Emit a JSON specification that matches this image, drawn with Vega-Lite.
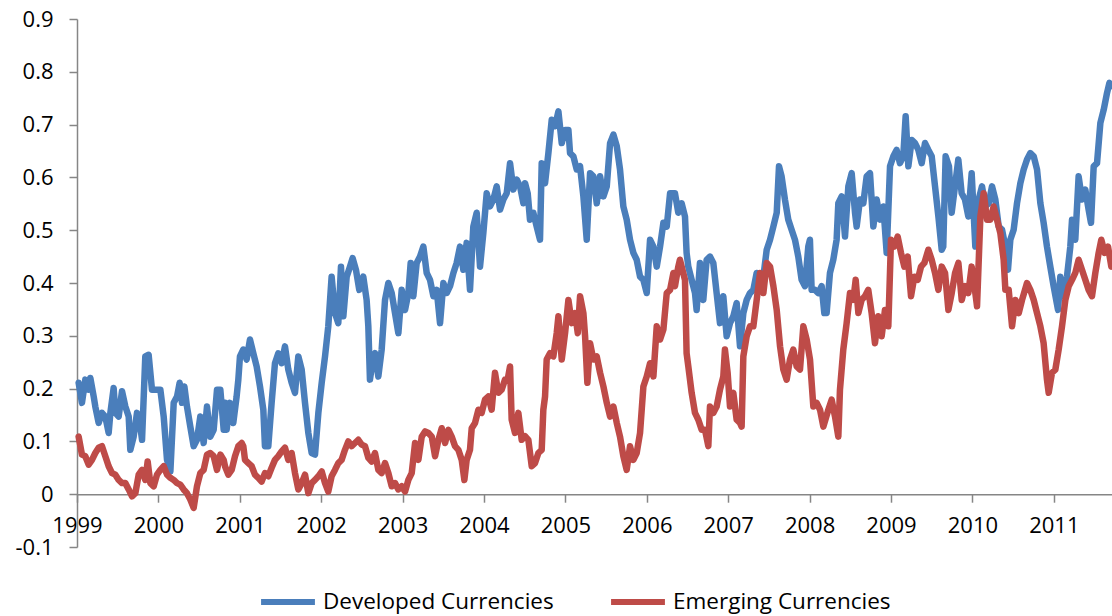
{
"$schema": "https://vega.github.io/schema/vega-lite/v6.json",
"width": 1035, "height": 528,
"autosize": {"type": "none"},
"padding": {"left": 77, "top": 19, "right": 0, "bottom": 69},
"background": "white",
"config": {"view": {"stroke": null}, "font": "Open Sans"},
"datasets": {
"developed": [
{"year":1999.020,"value":0.211},{"year":1999.061,"value":0.173},{"year":1999.102,"value":0.217},{"year":1999.143,"value":0.198},{"year":1999.164,"value":0.220},{"year":1999.205,"value":0.185},{"year":1999.225,"value":0.166},{"year":1999.266,"value":0.135},{"year":1999.307,"value":0.154},{"year":1999.348,"value":0.147},{"year":1999.389,"value":0.116},{"year":1999.410,"value":0.154},{"year":1999.450,"value":0.201},{"year":1999.471,"value":0.154},{"year":1999.512,"value":0.147},{"year":1999.553,"value":0.195},{"year":1999.594,"value":0.166},{"year":1999.635,"value":0.147},{"year":1999.655,"value":0.084},{"year":1999.696,"value":0.109},{"year":1999.737,"value":0.154},{"year":1999.778,"value":0.128},{"year":1999.799,"value":0.103},{"year":1999.839,"value":0.261},{"year":1999.880,"value":0.264},{"year":1999.921,"value":0.198},{"year":1999.962,"value":0.198},{"year":2000.024,"value":0.198},{"year":2000.065,"value":0.147},{"year":2000.106,"value":0.065},{"year":2000.147,"value":0.043},{"year":2000.188,"value":0.173},{"year":2000.229,"value":0.185},{"year":2000.261,"value":0.211},{"year":2000.290,"value":0.173},{"year":2000.319,"value":0.204},{"year":2000.351,"value":0.166},{"year":2000.392,"value":0.128},{"year":2000.433,"value":0.091},{"year":2000.474,"value":0.103},{"year":2000.515,"value":0.147},{"year":2000.556,"value":0.097},{"year":2000.597,"value":0.166},{"year":2000.638,"value":0.109},{"year":2000.679,"value":0.122},{"year":2000.720,"value":0.198},{"year":2000.761,"value":0.198},{"year":2000.802,"value":0.122},
{"year":2000.818,"value":0.173},{"year":2000.838,"value":0.122},{"year":2000.879,"value":0.173},{"year":2000.920,"value":0.135},{"year":2000.961,"value":0.185},{"year":2000.982,"value":0.217},{"year":2001.002,"value":0.261},{"year":2001.043,"value":0.274},{"year":2001.084,"value":0.255},{"year":2001.125,"value":0.293},{"year":2001.166,"value":0.267},{"year":2001.207,"value":0.242},{"year":2001.248,"value":0.204},{"year":2001.289,"value":0.160},{"year":2001.309,"value":0.091},{"year":2001.350,"value":0.091},{"year":2001.391,"value":0.173},{"year":2001.432,"value":0.248},{"year":2001.473,"value":0.267},{"year":2001.514,"value":0.248},{"year":2001.555,"value":0.280},{"year":2001.596,"value":0.236},{"year":2001.637,"value":0.211},{"year":2001.678,"value":0.192},{"year":2001.719,"value":0.261},{"year":2001.760,"value":0.236},{"year":2001.801,"value":0.173},{"year":2001.842,"value":0.116},{"year":2001.883,"value":0.078},{"year":2001.924,"value":0.075},{"year":2001.965,"value":0.154},{"year":2002.006,"value":0.211},{"year":2002.047,"value":0.261},{"year":2002.087,"value":0.318},{"year":2002.128,"value":0.412},{"year":2002.169,"value":0.343},{"year":2002.210,"value":0.324},{"year":2002.243,"value":0.431},{"year":2002.272,"value":0.337},{"year":2002.313,"value":0.412},{"year":2002.354,"value":0.431},{"year":2002.386,"value":0.447},{"year":2002.427,"value":0.425},{"year":2002.468,"value":0.387},{"year":2002.517,"value":0.412},{"year":2002.558,"value":0.368},{"year":2002.579,"value":0.318},{"year":2002.599,"value":0.217},{"year":2002.640,"value":0.261},
{"year":2002.661,"value":0.267},{"year":2002.702,"value":0.223},{"year":2002.743,"value":0.274},{"year":2002.784,"value":0.368},{"year":2002.825,"value":0.400},{"year":2002.866,"value":0.381},{"year":2002.907,"value":0.343},{"year":2002.948,"value":0.305},{"year":2002.989,"value":0.387},{"year":2003.030,"value":0.349},{"year":2003.071,"value":0.381},{"year":2003.099,"value":0.438},{"year":2003.132,"value":0.375},{"year":2003.173,"value":0.438},{"year":2003.214,"value":0.450},{"year":2003.255,"value":0.469},{"year":2003.296,"value":0.419},{"year":2003.337,"value":0.406},{"year":2003.378,"value":0.375},{"year":2003.419,"value":0.387},{"year":2003.460,"value":0.324},{"year":2003.501,"value":0.400},{"year":2003.542,"value":0.381},{"year":2003.583,"value":0.394},{"year":2003.624,"value":0.419},{"year":2003.664,"value":0.438},{"year":2003.705,"value":0.469},{"year":2003.746,"value":0.425},{"year":2003.787,"value":0.476},{"year":2003.828,"value":0.387},{"year":2003.869,"value":0.507},{"year":2003.910,"value":0.533},{"year":2003.951,"value":0.431},{"year":2003.992,"value":0.495},{"year":2004.033,"value":0.570},{"year":2004.074,"value":0.545},{"year":2004.115,"value":0.558},{"year":2004.156,"value":0.583},{"year":2004.197,"value":0.539},{"year":2004.238,"value":0.558},{"year":2004.279,"value":0.570},{"year":2004.320,"value":0.627},{"year":2004.361,"value":0.577},{"year":2004.402,"value":0.596},{"year":2004.443,"value":0.583},{"year":2004.484,"value":0.551},
{"year":2004.504,"value":0.589},{"year":2004.537,"value":0.570},{"year":2004.565,"value":0.520},{"year":2004.606,"value":0.533},{"year":2004.647,"value":0.507},{"year":2004.688,"value":0.482},{"year":2004.709,"value":0.627},{"year":2004.750,"value":0.589},{"year":2004.791,"value":0.646},{"year":2004.832,"value":0.709},{"year":2004.873,"value":0.697},{"year":2004.914,"value":0.725},{"year":2004.955,"value":0.665},{"year":2004.996,"value":0.690},{"year":2005.037,"value":0.690},{"year":2005.057,"value":0.646},{"year":2005.098,"value":0.640},{"year":2005.139,"value":0.615},{"year":2005.180,"value":0.621},{"year":2005.221,"value":0.564},{"year":2005.262,"value":0.482},{"year":2005.303,"value":0.608},{"year":2005.344,"value":0.602},{"year":2005.385,"value":0.551},{"year":2005.426,"value":0.602},{"year":2005.467,"value":0.564},{"year":2005.508,"value":0.583},{"year":2005.549,"value":0.665},{"year":2005.590,"value":0.681},{"year":2005.631,"value":0.659},{"year":2005.671,"value":0.615},{"year":2005.712,"value":0.545},{"year":2005.753,"value":0.520},{"year":2005.794,"value":0.482},{"year":2005.835,"value":0.457},{"year":2005.876,"value":0.444},{"year":2005.917,"value":0.412},{"year":2005.958,"value":0.406},{"year":2005.999,"value":0.381},{"year":2006.040,"value":0.482},{"year":2006.081,"value":0.469},{"year":2006.122,"value":0.431},{"year":2006.163,"value":0.469},{"year":2006.204,"value":0.514},{"year":2006.245,"value":0.507},{"year":2006.286,"value":0.570},{"year":2006.327,"value":0.570},
{"year":2006.346,"value":0.570},{"year":2006.387,"value":0.533},{"year":2006.428,"value":0.551},{"year":2006.469,"value":0.526},{"year":2006.489,"value":0.457},{"year":2006.510,"value":0.431},{"year":2006.551,"value":0.406},{"year":2006.592,"value":0.381},{"year":2006.612,"value":0.349},{"year":2006.653,"value":0.438},{"year":2006.694,"value":0.368},{"year":2006.735,"value":0.444},{"year":2006.776,"value":0.450},{"year":2006.817,"value":0.438},{"year":2006.858,"value":0.381},{"year":2006.899,"value":0.324},{"year":2006.940,"value":0.375},{"year":2006.981,"value":0.299},{"year":2007.022,"value":0.324},{"year":2007.063,"value":0.337},{"year":2007.104,"value":0.362},{"year":2007.145,"value":0.280},{"year":2007.186,"value":0.343},{"year":2007.227,"value":0.368},{"year":2007.268,"value":0.381},{"year":2007.309,"value":0.387},{"year":2007.350,"value":0.419},{"year":2007.391,"value":0.394},{"year":2007.432,"value":0.412},{"year":2007.473,"value":0.463},{"year":2007.514,"value":0.482},{"year":2007.555,"value":0.507},{"year":2007.596,"value":0.533},{"year":2007.624,"value":0.621},{"year":2007.656,"value":0.602},{"year":2007.697,"value":0.558},{"year":2007.738,"value":0.520},{"year":2007.779,"value":0.501},{"year":2007.820,"value":0.482},{"year":2007.861,"value":0.450},{"year":2007.902,"value":0.406},{"year":2007.943,"value":0.394},{"year":2007.984,"value":0.469},{"year":2008.004,"value":0.482},{"year":2008.025,"value":0.387},{"year":2008.066,"value":0.387},{"year":2008.107,"value":0.381},{"year":2008.148,"value":0.394},{"year":2008.181,"value":0.343},
{"year":2008.189,"value":0.381},{"year":2008.209,"value":0.343},{"year":2008.250,"value":0.419},{"year":2008.291,"value":0.444},{"year":2008.332,"value":0.482},{"year":2008.353,"value":0.551},{"year":2008.394,"value":0.564},{"year":2008.435,"value":0.488},{"year":2008.476,"value":0.583},{"year":2008.517,"value":0.608},{"year":2008.558,"value":0.533},{"year":2008.578,"value":0.507},{"year":2008.619,"value":0.558},{"year":2008.660,"value":0.551},{"year":2008.701,"value":0.602},{"year":2008.742,"value":0.608},{"year":2008.783,"value":0.507},{"year":2008.824,"value":0.558},{"year":2008.865,"value":0.520},{"year":2008.906,"value":0.545},{"year":2008.947,"value":0.457},{"year":2008.988,"value":0.621},{"year":2009.029,"value":0.640},{"year":2009.069,"value":0.652},{"year":2009.110,"value":0.627},{"year":2009.151,"value":0.640},{"year":2009.180,"value":0.716},{"year":2009.213,"value":0.621},{"year":2009.254,"value":0.671},{"year":2009.295,"value":0.665},{"year":2009.336,"value":0.652},{"year":2009.377,"value":0.627},{"year":2009.418,"value":0.665},{"year":2009.459,"value":0.652},{"year":2009.500,"value":0.640},{"year":2009.541,"value":0.583},{"year":2009.582,"value":0.526},{"year":2009.623,"value":0.463},{"year":2009.642,"value":0.469},{"year":2009.671,"value":0.640},{"year":2009.712,"value":0.621},{"year":2009.745,"value":0.533},{"year":2009.786,"value":0.583},{"year":2009.827,"value":0.634},{"year":2009.868,"value":0.570},{"year":2009.909,"value":0.558},{"year":2009.950,"value":0.526},{"year":2009.991,"value":0.608},
{"year":2010.036,"value":0.469},{"year":2010.077,"value":0.558},{"year":2010.118,"value":0.583},{"year":2010.159,"value":0.545},{"year":2010.200,"value":0.551},{"year":2010.241,"value":0.583},{"year":2010.282,"value":0.558},{"year":2010.323,"value":0.507},{"year":2010.364,"value":0.501},{"year":2010.405,"value":0.469},{"year":2010.437,"value":0.425},{"year":2010.466,"value":0.482},{"year":2010.507,"value":0.501},{"year":2010.548,"value":0.551},{"year":2010.589,"value":0.589},{"year":2010.630,"value":0.615},{"year":2010.671,"value":0.634},{"year":2010.712,"value":0.646},{"year":2010.753,"value":0.640},{"year":2010.794,"value":0.615},{"year":2010.835,"value":0.551},{"year":2010.875,"value":0.514},{"year":2010.916,"value":0.469},{"year":2010.957,"value":0.431},{"year":2010.998,"value":0.394},{"year":2011.052,"value":0.349},{"year":2011.080,"value":0.412},{"year":2011.109,"value":0.375},{"year":2011.162,"value":0.412},{"year":2011.203,"value":0.469},{"year":2011.224,"value":0.520},{"year":2011.264,"value":0.482},{"year":2011.305,"value":0.602},{"year":2011.346,"value":0.558},{"year":2011.387,"value":0.577},{"year":2011.428,"value":0.539},{"year":2011.457,"value":0.514},{"year":2011.490,"value":0.621},{"year":2011.531,"value":0.627},{"year":2011.572,"value":0.703},{"year":2011.613,"value":0.728},{"year":2011.654,"value":0.760},{"year":2011.683,"value":0.779},{"year":2011.707,"value":0.773}
],
"emerging": [
{"year":1999.020,"value":0.109},{"year":1999.061,"value":0.075},{"year":1999.102,"value":0.072},{"year":1999.143,"value":0.056},{"year":1999.184,"value":0.065},{"year":1999.225,"value":0.078},{"year":1999.266,"value":0.088},{"year":1999.307,"value":0.091},{"year":1999.348,"value":0.072},{"year":1999.389,"value":0.053},{"year":1999.430,"value":0.040},{"year":1999.471,"value":0.037},{"year":1999.512,"value":0.027},{"year":1999.553,"value":0.021},{"year":1999.594,"value":0.021},{"year":1999.635,"value":0.009},{"year":1999.676,"value":-0.004},{"year":1999.717,"value":0.002},{"year":1999.758,"value":0.037},{"year":1999.799,"value":0.046},{"year":1999.839,"value":0.027},{"year":1999.868,"value":0.062},{"year":1999.901,"value":0.021},{"year":1999.942,"value":0.015},{"year":1999.983,"value":0.037},{"year":2000.024,"value":0.046},{"year":2000.065,"value":0.053},{"year":2000.106,"value":0.037},{"year":2000.147,"value":0.031},{"year":2000.188,"value":0.027},{"year":2000.229,"value":0.021},{"year":2000.269,"value":0.018},{"year":2000.310,"value":0.009},{"year":2000.351,"value":0.002},{"year":2000.392,"value":-0.010},{"year":2000.433,"value":-0.026},{"year":2000.474,"value":0.015},{"year":2000.515,"value":0.040},{"year":2000.556,"value":0.046},{"year":2000.597,"value":0.075},{"year":2000.638,"value":0.078},{"year":2000.679,"value":0.072},{"year":2000.720,"value":0.046},{"year":2000.761,"value":0.075},{"year":2000.802,"value":0.065},
{"year":2000.818,"value":0.053},{"year":2000.859,"value":0.037},{"year":2000.900,"value":0.046},{"year":2000.941,"value":0.072},{"year":2000.982,"value":0.091},{"year":2001.023,"value":0.097},{"year":2001.043,"value":0.091},{"year":2001.064,"value":0.065},{"year":2001.105,"value":0.059},{"year":2001.146,"value":0.053},{"year":2001.186,"value":0.037},{"year":2001.227,"value":0.031},{"year":2001.268,"value":0.024},{"year":2001.309,"value":0.040},{"year":2001.350,"value":0.034},{"year":2001.391,"value":0.050},{"year":2001.432,"value":0.065},{"year":2001.473,"value":0.072},{"year":2001.514,"value":0.081},{"year":2001.555,"value":0.088},{"year":2001.596,"value":0.065},{"year":2001.637,"value":0.078},{"year":2001.678,"value":0.040},{"year":2001.719,"value":0.009},{"year":2001.760,"value":0.021},{"year":2001.801,"value":0.037},{"year":2001.842,"value":0.002},{"year":2001.883,"value":0.021},{"year":2001.924,"value":0.027},{"year":2001.965,"value":0.034},{"year":2002.006,"value":0.043},{"year":2002.047,"value":0.021},{"year":2002.087,"value":0.005},{"year":2002.128,"value":0.034},{"year":2002.169,"value":0.046},{"year":2002.210,"value":0.059},{"year":2002.251,"value":0.065},{"year":2002.292,"value":0.084},{"year":2002.333,"value":0.100},{"year":2002.374,"value":0.091},{"year":2002.415,"value":0.097},{"year":2002.456,"value":0.103},{"year":2002.497,"value":0.094},{"year":2002.538,"value":0.091},{"year":2002.579,"value":0.069},{"year":2002.620,"value":0.062},
{"year":2002.661,"value":0.078},{"year":2002.702,"value":0.046},{"year":2002.743,"value":0.040},{"year":2002.784,"value":0.059},{"year":2002.825,"value":0.040},{"year":2002.866,"value":0.015},{"year":2002.907,"value":0.021},{"year":2002.948,"value":0.009},{"year":2002.989,"value":0.015},{"year":2003.030,"value":0.005},{"year":2003.071,"value":0.027},{"year":2003.112,"value":0.040},{"year":2003.153,"value":0.097},{"year":2003.194,"value":0.065},{"year":2003.235,"value":0.109},{"year":2003.276,"value":0.119},{"year":2003.317,"value":0.116},{"year":2003.358,"value":0.109},{"year":2003.399,"value":0.072},{"year":2003.440,"value":0.103},{"year":2003.481,"value":0.125},{"year":2003.522,"value":0.097},{"year":2003.563,"value":0.122},{"year":2003.603,"value":0.109},{"year":2003.644,"value":0.091},{"year":2003.685,"value":0.084},{"year":2003.726,"value":0.065},{"year":2003.759,"value":0.027},{"year":2003.787,"value":0.065},{"year":2003.828,"value":0.084},{"year":2003.849,"value":0.125},{"year":2003.890,"value":0.135},{"year":2003.931,"value":0.160},{"year":2003.971,"value":0.154},{"year":2004.012,"value":0.179},{"year":2004.053,"value":0.185},{"year":2004.094,"value":0.160},{"year":2004.135,"value":0.230},{"year":2004.176,"value":0.192},{"year":2004.217,"value":0.198},{"year":2004.258,"value":0.217},{"year":2004.291,"value":0.217},{"year":2004.320,"value":0.242},{"year":2004.340,"value":0.141},{"year":2004.381,"value":0.116},{"year":2004.422,"value":0.154},{"year":2004.463,"value":0.103},
{"year":2004.504,"value":0.110},{"year":2004.545,"value":0.103},{"year":2004.586,"value":0.053},{"year":2004.627,"value":0.059},{"year":2004.668,"value":0.078},{"year":2004.709,"value":0.084},{"year":2004.729,"value":0.160},{"year":2004.750,"value":0.185},{"year":2004.770,"value":0.255},{"year":2004.811,"value":0.267},{"year":2004.852,"value":0.261},{"year":2004.893,"value":0.305},{"year":2004.914,"value":0.337},{"year":2004.955,"value":0.255},{"year":2004.996,"value":0.305},{"year":2005.037,"value":0.368},{"year":2005.078,"value":0.324},{"year":2005.119,"value":0.343},{"year":2005.152,"value":0.305},{"year":2005.180,"value":0.375},{"year":2005.221,"value":0.343},{"year":2005.242,"value":0.299},{"year":2005.270,"value":0.211},{"year":2005.303,"value":0.286},{"year":2005.344,"value":0.255},{"year":2005.385,"value":0.261},{"year":2005.426,"value":0.230},{"year":2005.467,"value":0.204},{"year":2005.508,"value":0.173},{"year":2005.549,"value":0.147},{"year":2005.590,"value":0.166},{"year":2005.631,"value":0.135},{"year":2005.671,"value":0.109},{"year":2005.712,"value":0.072},{"year":2005.753,"value":0.046},{"year":2005.794,"value":0.091},{"year":2005.835,"value":0.065},{"year":2005.876,"value":0.078},{"year":2005.917,"value":0.116},{"year":2005.958,"value":0.204},{"year":2005.999,"value":0.223},{"year":2006.040,"value":0.248},{"year":2006.081,"value":0.223},{"year":2006.122,"value":0.318},{"year":2006.163,"value":0.293},{"year":2006.204,"value":0.312},{"year":2006.245,"value":0.381},{"year":2006.286,"value":0.387},{"year":2006.327,"value":0.419},
{"year":2006.346,"value":0.394},{"year":2006.387,"value":0.431},{"year":2006.407,"value":0.444},{"year":2006.428,"value":0.431},{"year":2006.469,"value":0.406},{"year":2006.489,"value":0.267},{"year":2006.510,"value":0.242},{"year":2006.551,"value":0.192},{"year":2006.592,"value":0.154},{"year":2006.633,"value":0.141},{"year":2006.674,"value":0.122},{"year":2006.715,"value":0.122},{"year":2006.756,"value":0.091},{"year":2006.776,"value":0.166},{"year":2006.817,"value":0.154},{"year":2006.858,"value":0.166},{"year":2006.899,"value":0.198},{"year":2006.940,"value":0.223},{"year":2006.960,"value":0.274},{"year":2006.993,"value":0.230},{"year":2007.022,"value":0.166},{"year":2007.063,"value":0.192},{"year":2007.104,"value":0.141},{"year":2007.145,"value":0.135},{"year":2007.165,"value":0.128},{"year":2007.186,"value":0.261},{"year":2007.227,"value":0.299},{"year":2007.268,"value":0.318},{"year":2007.309,"value":0.318},{"year":2007.350,"value":0.368},{"year":2007.391,"value":0.419},{"year":2007.432,"value":0.381},{"year":2007.473,"value":0.438},{"year":2007.514,"value":0.431},{"year":2007.555,"value":0.394},{"year":2007.596,"value":0.349},{"year":2007.637,"value":0.280},{"year":2007.677,"value":0.236},{"year":2007.718,"value":0.217},{"year":2007.759,"value":0.255},{"year":2007.800,"value":0.274},{"year":2007.841,"value":0.242},{"year":2007.882,"value":0.236},{"year":2007.923,"value":0.318},{"year":2007.964,"value":0.293},{"year":2008.005,"value":0.255},{"year":2008.046,"value":0.166},{"year":2008.087,"value":0.173},{"year":2008.128,"value":0.160},{"year":2008.169,"value":0.128},
{"year":2008.230,"value":0.160},{"year":2008.271,"value":0.179},{"year":2008.312,"value":0.147},{"year":2008.353,"value":0.109},{"year":2008.373,"value":0.198},{"year":2008.414,"value":0.274},{"year":2008.455,"value":0.324},{"year":2008.496,"value":0.381},{"year":2008.537,"value":0.368},{"year":2008.566,"value":0.406},{"year":2008.599,"value":0.343},{"year":2008.639,"value":0.368},{"year":2008.680,"value":0.375},{"year":2008.721,"value":0.387},{"year":2008.762,"value":0.343},{"year":2008.803,"value":0.286},{"year":2008.844,"value":0.337},{"year":2008.885,"value":0.299},{"year":2008.926,"value":0.349},{"year":2008.967,"value":0.318},{"year":2009.000,"value":0.482},{"year":2009.041,"value":0.469},{"year":2009.082,"value":0.488},{"year":2009.123,"value":0.457},{"year":2009.164,"value":0.431},{"year":2009.205,"value":0.450},{"year":2009.246,"value":0.375},{"year":2009.287,"value":0.412},{"year":2009.328,"value":0.406},{"year":2009.369,"value":0.431},{"year":2009.410,"value":0.438},{"year":2009.459,"value":0.463},{"year":2009.500,"value":0.444},{"year":2009.541,"value":0.419},{"year":2009.582,"value":0.387},{"year":2009.623,"value":0.431},{"year":2009.664,"value":0.419},{"year":2009.705,"value":0.349},{"year":2009.746,"value":0.381},{"year":2009.787,"value":0.419},{"year":2009.828,"value":0.438},{"year":2009.869,"value":0.368},{"year":2009.910,"value":0.394},{"year":2009.950,"value":0.381},{"year":2009.991,"value":0.431},
{"year":2010.036,"value":0.381},{"year":2010.057,"value":0.356},{"year":2010.098,"value":0.526},{"year":2010.139,"value":0.570},{"year":2010.180,"value":0.520},{"year":2010.220,"value":0.520},{"year":2010.261,"value":0.545},{"year":2010.302,"value":0.520},{"year":2010.343,"value":0.495},{"year":2010.384,"value":0.444},{"year":2010.405,"value":0.387},{"year":2010.446,"value":0.387},{"year":2010.487,"value":0.318},{"year":2010.528,"value":0.368},{"year":2010.569,"value":0.343},{"year":2010.610,"value":0.368},{"year":2010.671,"value":0.400},{"year":2010.712,"value":0.387},{"year":2010.753,"value":0.368},{"year":2010.794,"value":0.343},{"year":2010.835,"value":0.318},{"year":2010.875,"value":0.286},{"year":2010.916,"value":0.217},{"year":2010.937,"value":0.192},{"year":2010.978,"value":0.230},{"year":2011.019,"value":0.236},{"year":2011.060,"value":0.274},{"year":2011.101,"value":0.318},{"year":2011.142,"value":0.368},{"year":2011.183,"value":0.394},{"year":2011.224,"value":0.406},{"year":2011.264,"value":0.419},{"year":2011.305,"value":0.444},{"year":2011.346,"value":0.425},{"year":2011.387,"value":0.406},{"year":2011.428,"value":0.387},{"year":2011.469,"value":0.375},{"year":2011.510,"value":0.419},{"year":2011.551,"value":0.457},{"year":2011.584,"value":0.482},{"year":2011.625,"value":0.457},{"year":2011.666,"value":0.469},{"year":2011.707,"value":0.431}
]
},
"encoding": {
  "x": {"field": "year", "type": "quantitative",
    "scale": {"domain": [1999, 2011.715], "nice": false, "zero": false},
    "axis": {"title": null, "values": [1999,2000,2001,2002,2003,2004,2005,2006,2007,2008,2009,2010,2011],
      "format": "d", "offset": -52.8, "grid": false,
      "domainColor": "#868686", "domainWidth": 1.5, "tickColor": "#868686", "tickWidth": 1.5, "tickSize": 8,
      "labelFont": "Open Sans", "labelFontSize": 22, "labelColor": "#000000", "labelPadding": 13,
      "labelFlush": false, "labelOverlap": false}},
  "y": {"field": "value", "type": "quantitative",
    "scale": {"domain": [-0.1, 0.9], "nice": false, "zero": false},
    "axis": {"title": null, "values": [-0.1,0,0.1,0.2,0.3,0.4,0.5,0.6,0.7,0.8,0.9],
      "labelExpr": "datum.value == 0 ? '0' : (datum.value < 0 ? '-' + format(-datum.value, '.1f') : format(datum.value, '.1f'))",
      "grid": false, "domainColor": "#868686", "domainWidth": 1.5, "tickColor": "#868686", "tickWidth": 1.5, "tickSize": 8,
      "labelFont": "Open Sans", "labelFontSize": 22, "labelColor": "#000000", "labelPadding": 16}}
},
"layer": [
  {"data": {"name": "developed"},
   "mark": {"type": "line", "strokeWidth": 6.5, "strokeCap": "round", "strokeJoin": "round"},
   "encoding": {"color": {"datum": "Developed Currencies", "type": "nominal",
     "scale": {"domain": ["Developed Currencies", "Emerging Currencies"], "range": ["#4A7EBB", "#BE4B48"]},
     "legend": {"title": null, "orient": "none", "direction": "horizontal", "legendX": 181, "legendY": 553,
       "symbolType": "stroke", "symbolSize": 2900, "symbolStrokeWidth": 6,
       "labelFont": "Open Sans", "labelFontSize": 22.5, "labelColor": "#000000", "labelOffset": 5,
       "columnPadding": 45, "padding": 0, "labelLimit": 400}}}},
  {"data": {"name": "emerging"},
   "mark": {"type": "line", "strokeWidth": 6.5, "strokeCap": "round", "strokeJoin": "round"},
   "encoding": {"color": {"datum": "Emerging Currencies", "type": "nominal"}}}
]
}
